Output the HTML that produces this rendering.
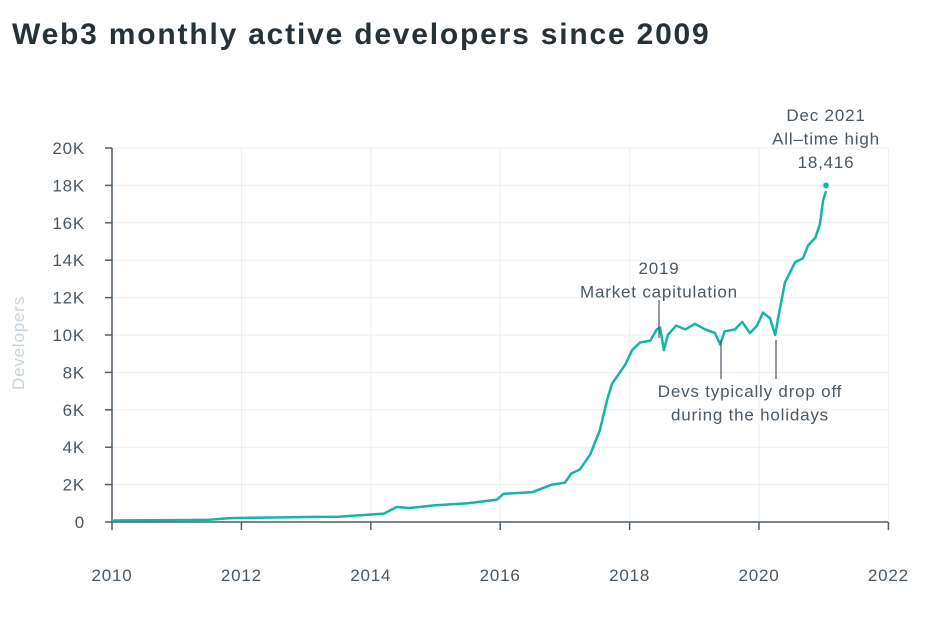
<!DOCTYPE html>
<html><head><meta charset="utf-8"><style>
body{margin:0;background:#fff;width:937px;height:619px;overflow:hidden;font-family:"Liberation Sans",sans-serif}
h1{position:absolute;left:12px;top:18px;margin:0;font-size:30px;font-weight:bold;color:#263238;letter-spacing:1.8px}
</style></head><body>
<h1>Web3 monthly active developers since 2009</h1>
<svg id="c" width="937" height="619" style="position:absolute;left:0;top:0"></svg>
<script>
const years=[2010,2010.5,2011,2011.5,2011.8,2012,2012.5,2013,2013.5,2014,2014.2,2014.4,2014.6,2015,2015.5,2015.95,2016.05,2016.5,2016.8,2017,2017.1,2017.23,2017.39,2017.54,2017.65,2017.73,2017.93,2018.04,2018.16,2018.32,2018.42,2018.47,2018.53,2018.59,2018.72,2018.86,2019.01,2019.17,2019.32,2019.40,2019.47,2019.63,2019.74,2019.86,2019.97,2020.06,2020.17,2020.25,2020.29,2020.40,2020.56,2020.68,2020.76,2020.87,2020.94,2020.99,2021.035];
const devs=[0.08,0.09,0.1,0.12,0.2,0.22,0.24,0.27,0.28,0.4,0.45,0.8,0.75,0.9,1.0,1.2,1.5,1.6,2.0,2.1,2.6,2.8,3.6,4.9,6.5,7.4,8.4,9.2,9.6,9.7,10.3,10.4,9.2,10.0,10.5,10.3,10.6,10.3,10.1,9.5,10.2,10.3,10.7,10.1,10.5,11.2,10.9,10.0,10.8,12.8,13.9,14.1,14.8,15.2,15.9,17.2,17.7];
const peak=[2021.035,18.0];
const yTicks=[0,2,4,6,8,10,12,14,16,18,20];
const xTicks=[2010,2012,2014,2016,2018,2020,2022];
const NS='http://www.w3.org/2000/svg',svg=document.getElementById('c');
const X=y=>112+(y-2010)*64.7, Y=v=>522-v*18.7;
function el(t,a,txt){const e=document.createElementNS(NS,t);for(const k in a)e.setAttribute(k,a[k]);if(txt!=null)e.textContent=txt;svg.appendChild(e);return e;}
yTicks.forEach(v=>{
 const g=el('line',{x1:112,x2:888,y1:Y(v),y2:Y(v),stroke:'#eeeeee'});
 
 
 const tk=el('line',{x1:105,x2:112,y1:Y(v),y2:Y(v),stroke:'#505f6a','stroke-width':1.5});
 
 
 const t=el('text',{x:85,y:Y(v)+6,'text-anchor':'end','font-size':17,'letter-spacing':0.8,fill:'#4a5863'},v===0?'0':v+'K');
 
 
});
xTicks.forEach(v=>{
 const g=el('line',{x1:X(v),x2:X(v),y1:148,y2:522,stroke:'#eeeeee'});
 
 
 const tk=el('line',{x1:X(v),x2:X(v),y1:522,y2:530,stroke:'#505f6a','stroke-width':1.5});
 
 
 const t=el('text',{x:X(v),y:581,'text-anchor':'middle','font-size':17,'letter-spacing':0.8,fill:'#4a5863'},String(v));
 
 
});
const ax=el('path',{d:'M112 148V522H888',fill:'none',stroke:'#505f6a','stroke-width':1.5});


const yt=el('text',{transform:'translate(24 343) rotate(-90)','text-anchor':'middle','font-size':17,'letter-spacing':0.8,fill:'#c9d3d9'},'Developers');


const ln=el('path',{d:years.map((y,i)=>(i?'L':'M')+X(y).toFixed(1)+' '+Y(devs[i]).toFixed(1)).join(''),fill:'none',stroke:'#13b5a6','stroke-width':2.5,'stroke-linejoin':'round'});


const pd=el('circle',{cx:X(peak[0]),cy:Y(peak[1]),r:3.5,fill:'#13b5a6',stroke:'#dff3f1','stroke-width':1.5});


function ann(lines,cx,y0,name){lines.forEach((s,i)=>{const t=el('text',{x:cx,y:y0+i*23.5,'text-anchor':'middle','font-size':17,'letter-spacing':0.8,fill:'#4a5863'},s);});}
ann(['Dec 2021','All–time high','18,416'],826,121,'peak-annotation');
ann(['2019','Market capitulation'],659,274,'capitulation-annotation');
ann(['Devs typically drop off','during the holidays'],750,397,'holiday-annotation');
[[659,300,338],[721,340,379],[776,340,379]].forEach(a=>{const l=el('line',{x1:a[0],x2:a[0],y1:a[1],y2:a[2],stroke:'#4a5863','stroke-width':1.2});});
</script>
</body></html>
